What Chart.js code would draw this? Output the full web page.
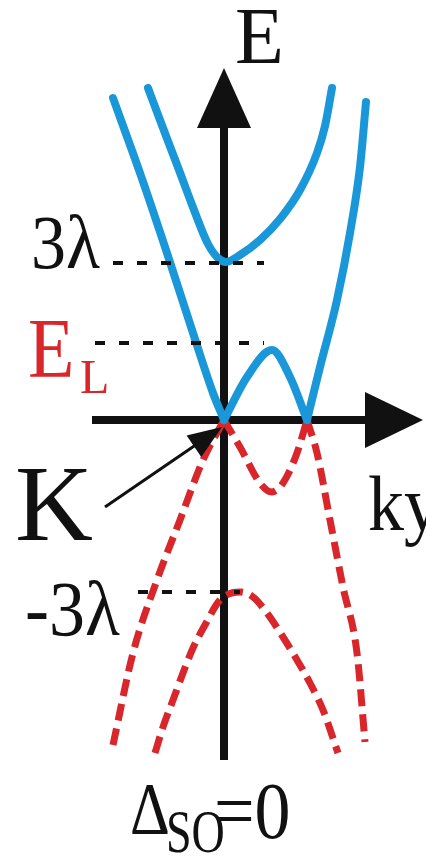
<!DOCTYPE html>
<html>
<head>
<meta charset="utf-8">
<script src="https://cdn.jsdelivr.net/npm/chart.js@4"></script>
<style>
  html, body { margin: 0; padding: 0; background: #fff; }
  canvas { display: block; }
</style>
</head>
<body>
<canvas id="bandas" width="426" height="856"></canvas>
<script>
// bandas de conduccion (azul) y valencia (rojo), puntos [k, E]
const condSuperior = [
  [-0.76, 3.32], [-0.61, 2.92], [-0.45, 2.50], [-0.30, 2.10], [-0.16, 1.76], [-0.06, 1.62], [0.02, 1.58],
  [0.16, 1.65], [0.36, 1.80], [0.56, 2.01], [0.76, 2.30], [0.93, 2.67], [1.01, 2.94], [1.08, 3.32]
];
const condIzq = [
  [-1.11, 3.22], [-0.84, 2.47], [-0.57, 1.67], [-0.31, 0.87], [-0.11, 0.27], [0, 0]
];
const condJoroba = [
  [0, 0], [0.23, 0.43], [0.48, 0.70], [0.66, 0.43], [0.83, 0]
];
const condDer = [
  [0.83, 0], [0.96, 0.53], [1.13, 1.20], [1.26, 1.87], [1.36, 2.53], [1.42, 3.18]
];
const valInferior = [
  [-0.69, -3.33], [-0.61, -3.07], [-0.51, -2.80], [-0.41, -2.53], [-0.31, -2.28],
  [-0.19, -2.05], [-0.04, -1.80], [0.16, -1.72], [0.29, -1.77], [0.43, -1.93],
  [0.59, -2.17], [0.73, -2.40], [0.86, -2.63], [0.99, -2.90], [1.14, -3.33]
];
const valIzq = [
  [-1.11, -3.25], [-0.91, -2.33], [-0.67, -1.60], [-0.44, -1.00], [-0.21, -0.40], [0, 0]
];
const valValle = [
  [0, 0], [0.16, -0.27], [0.36, -0.63], [0.48, -0.72], [0.59, -0.63], [0.73, -0.33], [0.83, 0]
];
const valDer = [
  [0.83, 0], [0.93, -0.33], [1.06, -1.00], [1.19, -1.67], [1.33, -2.33], [1.41, -3.22]
];

// niveles marcados con linea punteada: [E, k inicio, k fin]
const niveles = [
  [1.57, -1.11, 0.40],   // 3λ
  [0.77, -1.29, 0.40],   // E_L
  [-1.72, -0.86, 0.16]   // -3λ
];

// ejes
const ejeK = [[-1.32, 0], [1.70, 0]];
const ejeE = [[0, -3.40], [0, 2.95]];

const AZUL = '#1a97d8';
const ROJO = '#d8262b';

const pts = arr => arr.map(p => ({ x: p[0], y: p[1] }));

function azul(arr) {
  return {
    data: pts(arr), borderColor: AZUL, borderWidth: 8, pointRadius: 0,
    cubicInterpolationMode: 'monotone', borderCapStyle: 'round', borderJoinStyle: 'round', order: 1
  };
}
function rojo(arr) {
  return {
    data: pts(arr), borderColor: ROJO, borderWidth: 7, pointRadius: 0,
    cubicInterpolationMode: 'monotone', borderDash: [17, 8], order: 1
  };
}

const datasets = [
  azul(condSuperior), azul(condIzq), azul(condJoroba), azul(condDer),
  rojo(valInferior), rojo(valIzq), rojo(valValle), rojo(valDer)
];
niveles.forEach(n => {
  datasets.push({
    data: [{ x: n[1], y: n[0] }, { x: n[2], y: n[0] }],
    borderColor: '#111', borderWidth: 4, borderDash: [10, 14], pointRadius: 0, order: 0
  });
});
[ejeK, ejeE].forEach(e => {
  datasets.push({ data: pts(e), borderColor: '#111', borderWidth: 8, pointRadius: 0, order: 3 });
});

// textos: [texto, k, E, tamaño, color, estirado vertical]
const textos = [
  ['E', 0.11, 3.57, 80, '#111', 1],
  ['3λ', -1.93, 1.52, 70, '#111', 1.1],
  ['E', -1.96, 0.43, 76, ROJO, 1.12],
  ['L', -1.44, 0.27, 48, ROJO, 1],
  ['K', -2.09, -1.20, 108, '#111', 1],
  ['ky', 1.44, -1.10, 72, '#111', 1.1],
  ['-3λ', -1.99, -2.15, 72, '#111', 1.08],
  ['Δ', -0.94, -4.14, 62, '#111', 1.2],
  ['SO', -0.58, -4.32, 46, '#111', 1.32],
  ['=0', -0.10, -4.18, 72, '#111', 1.12]
];

function flecha(ctx, x0, y0, x1, y1, largo, ancho) {
  const a = Math.atan2(y1 - y0, x1 - x0);
  ctx.beginPath();
  ctx.moveTo(x1, y1);
  ctx.lineTo(x1 - largo * Math.cos(a) + ancho * Math.sin(a), y1 - largo * Math.sin(a) - ancho * Math.cos(a));
  ctx.lineTo(x1 - largo * Math.cos(a) - ancho * Math.sin(a), y1 - largo * Math.sin(a) + ancho * Math.cos(a));
  ctx.closePath();
  ctx.fill();
}

const decoracion = {
  id: 'decoracion',
  afterDatasetsDraw(chart) {
    const ctx = chart.ctx;
    const sx = chart.scales.x, sy = chart.scales.y;
    ctx.save();
    ctx.fillStyle = '#111';
    // puntas de los ejes
    flecha(ctx, sx.getPixelForValue(1.0), sy.getPixelForValue(0),
      sx.getPixelForValue(1.99), sy.getPixelForValue(0), 58, 28);
    flecha(ctx, sx.getPixelForValue(0), sy.getPixelForValue(2.5),
      sx.getPixelForValue(0), sy.getPixelForValue(3.52), 60, 27);
    // flecha del punto K
    const ax = sx.getPixelForValue(-1.19), ay = sy.getPixelForValue(-0.87);
    const bx = sx.getPixelForValue(-0.02), by = sy.getPixelForValue(-0.07);
    const d = Math.hypot(bx - ax, by - ay);
    ctx.strokeStyle = '#111';
    ctx.lineWidth = 3;
    ctx.beginPath();
    ctx.moveTo(ax, ay);
    ctx.lineTo(bx - 20 * (bx - ax) / d, by - 20 * (by - ay) / d);
    ctx.stroke();
    flecha(ctx, ax, ay, bx, by, 34, 13);
    // rotulos
    ctx.textBaseline = 'alphabetic';
    ctx.textAlign = 'left';
    textos.forEach(t => {
      ctx.save();
      ctx.translate(sx.getPixelForValue(t[1]), sy.getPixelForValue(t[2]));
      ctx.scale(1, t[5]);
      ctx.font = t[3] + 'px "Liberation Serif", "DejaVu Serif", serif';
      ctx.fillStyle = t[4];
      ctx.fillText(t[0], 0, 0);
      ctx.restore();
    });
    ctx.restore();
  }
};

new Chart(document.getElementById('bandas'), {
  type: 'line',
  data: { datasets: datasets },
  plugins: [decoracion],
  options: {
    animation: false,
    responsive: false,
    maintainAspectRatio: false,
    layout: { padding: 0 },
    plugins: { legend: { display: false }, tooltip: { enabled: false } },
    scales: {
      x: { type: 'linear', min: -2.24, max: 2.02, display: false },
      y: { type: 'linear', min: -4.36, max: 4.20, display: false }
    }
  }
});
</script>
</body>
</html>
